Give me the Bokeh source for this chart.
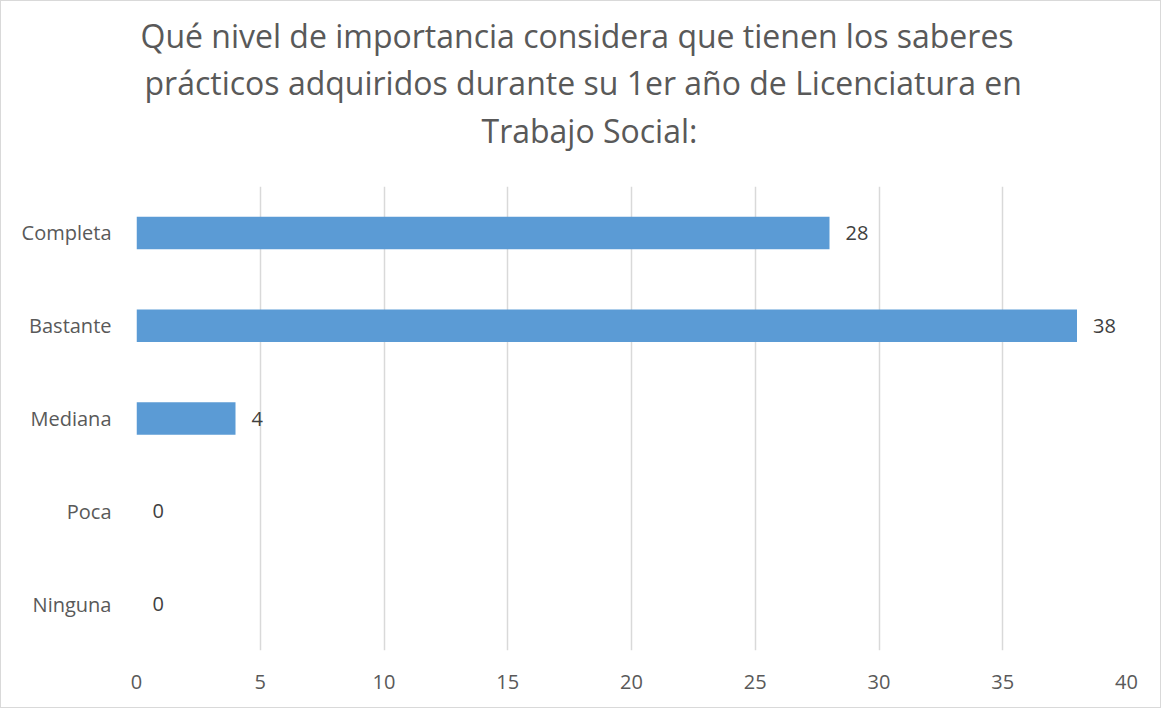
from bokeh.plotting import figure
from bokeh.models import ColumnDataSource, LabelSet, FixedTicker, Title
from bokeh.core.properties import value
from bokeh.embed import file_html
from bokeh.resources import INLINE

categories = ["Completa", "Bastante", "Mediana", "Poca", "Ninguna"]
values = [28, 38, 4, 0, 0]
x_ticks = [0, 5, 10, 15, 20, 25, 30, 35, 40]
title_lines = ["Qué nivel de importancia considera que  tienen los saberes",
               "prácticos adquiridos durante su 1er año de Licenciatura en",
               "Trabajo Social:"]

FONT = "Open Sans"
src = ColumnDataSource(dict(cat=categories, val=values, lab=[str(v) for v in values]))

p = figure(width=1161, height=708, output_backend="svg", toolbar_location=None,
           y_range=list(reversed(categories)), x_range=(0, 40),
           min_border_left=135, min_border_right=36, min_border_bottom=59, min_border_top=185,
           background_fill_color="white", border_fill_color="white",
           outline_line_color=None)
p.styles = {"border": "1px solid #d9d9d9"}


def style_title(t, standoff, offset, size="32px"):
    t.align = "left"
    t.offset = offset
    t.text_font = FONT
    t.text_font_size = size
    t.text_font_style = "normal"
    t.text_color = "#595959"
    t.standoff = standoff


# p.title is drawn outermost; titles added later stack outward from the frame
p.title.text = title_lines[0]
style_title(p.title, 0, 4)
spacer = Title(text=" ")
style_title(spacer, 19, 0, size="10px")
p.add_layout(spacer, "above")
t2 = Title(text=title_lines[2])
style_title(t2, 0, 345)
p.add_layout(t2, "above")
t1 = Title(text=title_lines[1])
style_title(t1, 5, 8)
p.add_layout(t1, "above")

p.hbar(y="cat", right="val", left=0, height=0.35, source=src,
       fill_color="#5b9bd5", line_color=None)

labels = LabelSet(x="val", y="cat", text="lab", source=src, x_offset=16,
                  text_baseline="middle", text_align="left",
                  text_font=value(FONT), text_font_size="20px", text_color="#404040")
p.add_layout(labels)

p.xaxis.ticker = FixedTicker(ticks=x_ticks)
for ax in (p.xaxis[0], p.yaxis[0]):
    ax.axis_line_color = None
    ax.major_tick_line_color = None
    ax.minor_tick_line_color = None
    ax.major_label_text_font = FONT
    ax.major_label_text_font_size = "20px"
    ax.major_label_text_color = "#595959"
p.xaxis.major_label_standoff = 18
p.yaxis.major_label_standoff = 19

p.xgrid.grid_line_color = "#d9d9d9"
p.xgrid.grid_line_width = 1.5
p.ygrid.grid_line_color = None
p.y_range.range_padding = 0

open("out.html", "w").write(file_html(p, INLINE))
